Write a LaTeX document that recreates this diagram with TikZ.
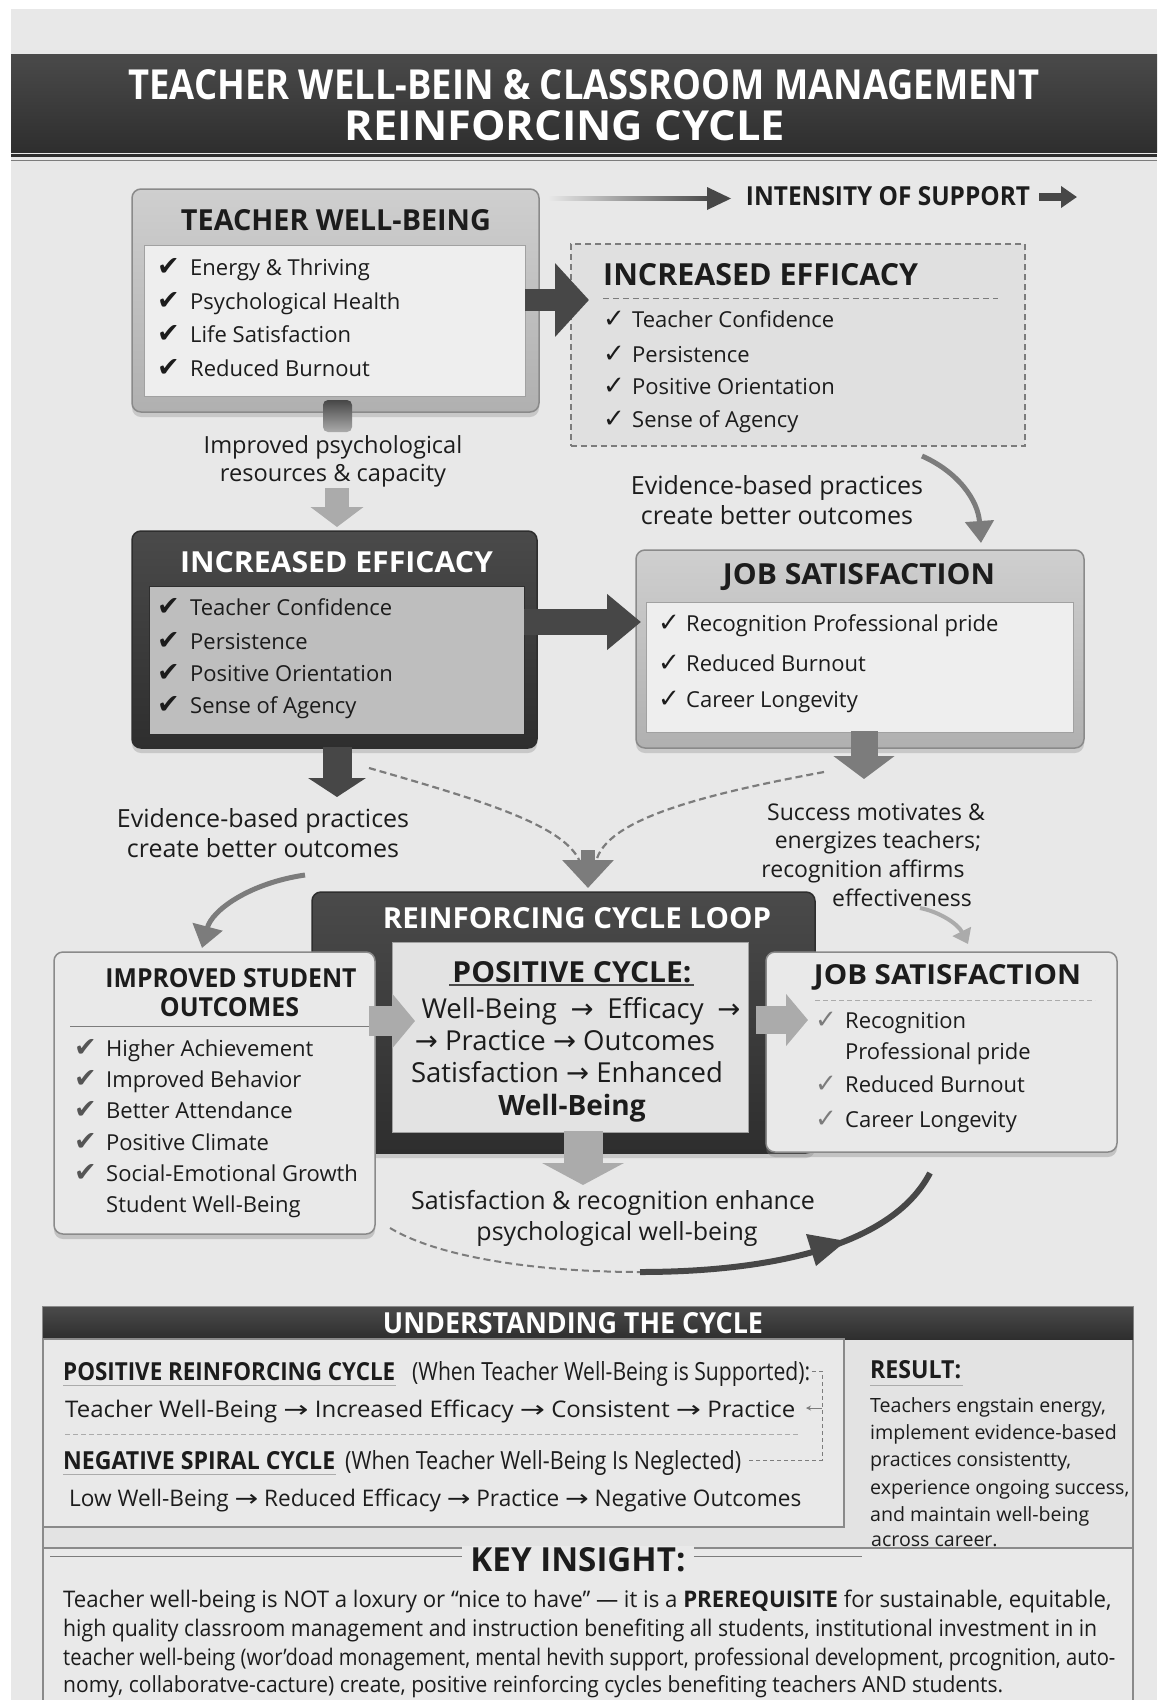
\documentclass[tikz,border=0pt]{standalone}
\usepackage{graphicx}
\usepackage{fontspec}
\setmainfont{Open Sans}
\newfontfamily\condf[FakeStretch=0.8]{Open Sans}
\newfontfamily\symf{DejaVu Sans}
\usetikzlibrary{arrows.meta,shadows}
\definecolor{bg}{HTML}{E8E8E8}
\definecolor{ink}{HTML}{1C1C1C}
\definecolor{boxtop}{HTML}{CFCFCF}
\definecolor{boxbot}{HTML}{B0B0B0}
\definecolor{panel}{HTML}{EEEEEE}
\definecolor{darktop}{HTML}{4A4A4A}
\definecolor{darkbot}{HTML}{2E2E2E}
\definecolor{paneldark}{HTML}{BEBEBE}
\definecolor{edge}{HTML}{8A8A8A}
\definecolor{arrdark}{HTML}{474747}
\definecolor{arrmid}{HTML}{7C7C7C}
\definecolor{arrlight}{HTML}{ABABAB}
\definecolor{dashfill}{HTML}{E0E0E0}
\definecolor{cardfill}{HTML}{E9E9E9}
\definecolor{secfill}{HTML}{E3E3E3}
\definecolor{ckgray}{HTML}{555555}
\newcommand\fitbox[3]{\resizebox{#1pt}{#2pt}{#3}}
\newcommand\ckH[1]{\makebox[#1pt][l]{{\symf\fontsize{27}{27}\selectfont\char"2714}}}
\newcommand\ckL[1]{\makebox[#1pt][l]{{\symf\fontsize{26}{26}\selectfont\char"2713}}}
\newcommand\rarr{{\symf\char"2192}}
\newcommand\larr{{\symf\char"2190}}
\tikzset{
  lbox/.style={draw=edge, line width=1.5pt, top color=boxtop, bottom color=boxbot, rounded corners=9pt,
     drop shadow={shadow xshift=0pt, shadow yshift=-5pt, opacity=0.3}},
  lpanel/.style={draw=edge!80, line width=1pt, fill=panel},
  dkbox/.style={draw=darkbot, line width=1.5pt, top color=darktop, bottom color=darkbot, rounded corners=9pt,
     drop shadow={shadow xshift=0pt, shadow yshift=-5pt, opacity=0.3}},
  dkpanel/.style={draw=darkbot, line width=1pt, fill=paneldark},
  dshbox/.style={draw=arrmid, line width=1.5pt, dash pattern=on 6pt off 4pt, fill=dashfill},
  card/.style={draw=edge, line width=1.5pt, fill=cardfill, rounded corners=9pt,
     drop shadow={shadow xshift=0pt, shadow yshift=-5pt, opacity=0.35}},
  hd/.style={inner sep=0pt, text=ink},
  hdw/.style={inner sep=0pt, text=white},
  itm/.style={anchor=west, inner sep=0pt, text=ink, font=\fontsize{22}{26}\selectfont, text height=17pt, text depth=1.5pt},
  lab/.style={inner sep=0pt, text=ink, font=\fontsize{24}{28}\selectfont, text height=18pt, text depth=1pt},
  cyc/.style={inner sep=0pt, text=ink, font=\fontsize{27.5}{30}\selectfont, text height=21pt, text depth=1.5pt},
  res/.style={anchor=base west, inner sep=0pt, text=ink, font=\fontsize{19.6}{24}\selectfont},
  fitl/.style={anchor=base west, inner sep=0pt, text=ink},
  dsh/.style={line width=2.2pt, dash pattern=on 7pt off 4pt, draw=arrmid},
  thin/.style={line width=1pt, draw=arrmid},
}
\begin{document}
\begin{tikzpicture}[x=1pt,y=-1pt]
\useasboundingbox (0,0) rectangle (1157,1700);
\fill[white] (0,0) rectangle (1157,1700);
\fill[bg] (11,9) rectangle (1157,1700);
% ---------- title banner
\shade[top color=darktop, bottom color=darkbot] (11,54) rectangle (1157,152);
\draw[line width=2.5pt, draw=darkbot] (11,155.5) -- (1157,155.5);
\draw[line width=1pt, draw=arrmid] (11,160) -- (1157,160);
\node[hdw] (title1) at (584,85) {\fitbox{911}{30}{\condf\bfseries TEACHER WELL-BEIN \& CLASSROOM MANAGEMENT}};
\node[hdw] (title2) at (565,126) {\fitbox{440}{30}{\condf\bfseries REINFORCING CYCLE}};

% ---------- intensity of support
\shade[left color=bg, right color=arrdark] (548,196.5) rectangle (712,200.5);
\fill[arrdark] (707,187) -- (731,198.5) -- (707,210) -- cycle;
\node[hd] (intens) at (888,196) {\fitbox{284}{19}{\condf\bfseries INTENSITY OF SUPPORT}};
\coordinate (isA) at (1039,197);
\coordinate (isB) at (1077,197);
\draw[arrdark, line width=8pt, -{Triangle[length=16pt,width=21pt]}] (isA) -- (isB);

% ---------- boxes
\node[lbox, minimum width=407pt, minimum height=223pt] (wb) at (335.5,300.5) {};
\node[lpanel, minimum width=381pt, minimum height=151pt] (wbp) at (334.5,320.5) {};
\node[hd] (wbh) at (336,220) {\fitbox{310}{21}{\bfseries TEACHER WELL-BEING}};

\node[dshbox, minimum width=454pt, minimum height=202pt] (ef1) at (798,345) {};
\node[hd, anchor=west] (ef1h) at (603,275) {\fitbox{315}{22}{\bfseries INCREASED EFFICACY}};
\draw[thin, dash pattern=on 6pt off 4pt] (603,298) -- (998,298);

\node[dkbox, minimum width=405pt, minimum height=217pt] (ef2) at (334.5,639.5) {};
\node[dkpanel, minimum width=375pt, minimum height=148pt] (ef2p) at (336.5,660) {};
\node[hdw] (ef2h) at (336.5,562) {\fitbox{313}{21}{\bfseries INCREASED EFFICACY}};

\node[lbox, minimum width=448pt, minimum height=198pt] (js) at (860,649) {};
\node[lpanel, minimum width=427pt, minimum height=130pt] (jsp) at (859.5,667) {};
\node[hd] (jsh) at (859,577) {\fitbox{272}{21}{\bfseries JOB SATISFACTION}};

\node[dkbox, minimum width=503pt, minimum height=261pt] (loop) at (563.5,1022.5) {};
\node[lpanel, fill=secfill, minimum width=356pt, minimum height=190pt] (loopp) at (570,1037) {};
\node[hdw] (looph) at (577,918) {\fitbox{388}{21}{\bfseries REINFORCING CYCLE LOOP}};

\node[card, minimum width=321pt, minimum height=282pt] (stu) at (214.5,1093) {};
\node[hd] (stuh1) at (231,978) {\fitbox{251}{19}{\bfseries IMPROVED STUDENT}};
\node[hd] (stuh2) at (229.5,1007) {\fitbox{139}{19}{\bfseries OUTCOMES}};
\draw[thin] (70,1026) -- (369,1026);

\node[card, minimum width=351pt, minimum height=200pt] (js2) at (941.5,1052) {};
\node[hd] (js2h) at (947.5,977) {\fitbox{267}{20}{\bfseries JOB SATISFACTION}};
\draw[thin, draw=arrlight, dash pattern=on 5pt off 3pt] (815,1000) -- (1095,1000);

% ---------- box items
\node[itm] (wb1) at (157,268) {\ckH{33}Energy \& Thriving};
\node[itm] (wb2) at (157,302) {\ckH{33}Psychological Health};
\node[itm] (wb3) at (157,335) {\ckH{33}Life Satisfaction};
\node[itm] (wb4) at (157,369) {\ckH{33}Reduced Burnout};

\node[itm] (ea1) at (603,320) {\ckL{29}Teacher Confidence};
\node[itm] (ea2) at (603,355) {\ckL{29}Persistence};
\node[itm] (ea3) at (603,387) {\ckL{29}Positive Orientation};
\node[itm] (ea4) at (603,420) {\ckL{29}Sense of Agency};

\node[itm] (eb1) at (157,608) {\ckH{33}Teacher Confidence};
\node[itm] (eb2) at (157,642) {\ckH{33}Persistence};
\node[itm] (eb3) at (157,674) {\ckH{33}Positive Orientation};
\node[itm] (eb4) at (157,706) {\ckH{33}Sense of Agency};

\node[itm] (js1) at (658,624) {\ckL{28}Recognition Professional pride};
\node[itm] (js2i) at (658,664) {\ckL{28}Reduced Burnout};
\node[itm] (js3) at (658,700) {\ckL{28}Career Longevity};

\node[itm] (so1) at (74,1049) {\textcolor{ckgray}{\ckH{32}}Higher Achievement};
\node[itm] (so2) at (74,1080) {\textcolor{ckgray}{\ckH{32}}Improved Behavior};
\node[itm] (so3) at (74,1111) {\textcolor{ckgray}{\ckH{32}}Better Attendance};
\node[itm] (so4) at (74,1143) {\textcolor{ckgray}{\ckH{32}}Positive Climate};
\node[itm] (so5) at (74,1174) {\textcolor{ckgray}{\ckH{32}}Social-Emotional Growth};
\node[itm] (so6) at (106,1205) {Student Well-Being};

\node[itm] (jt1) at (815,1021) {\textcolor{arrmid}{\ckL{30}}Recognition};
\node[itm] (jt2) at (845,1052) {Professional pride};
\node[itm] (jt3) at (815,1085) {\textcolor{arrmid}{\ckL{30}}Reduced Burnout};
\node[itm] (jt4) at (815,1120) {\textcolor{arrmid}{\ckL{30}}Career Longevity};

% ---------- cycle panel text
\node[hd] (pc) at (572,972) {\fitbox{239}{21}{\bfseries POSITIVE CYCLE:}};
\draw[line width=1.5pt, draw=ink!80] (449,985) -- (694,985);
\node[cyc] (c1) at (581,1009) {Well-Being\hspace{0.5em}\rarr\hspace{0.5em}Efficacy\hspace{0.5em}\rarr};
\node[cyc] (c2) at (565,1041) {\rarr\ Practice \rarr\ Outcomes};
\node[cyc] (c3) at (567,1073) {Satisfaction \rarr\ Enhanced};
\node[cyc, font=\fontsize{28}{30}\selectfont\bfseries] (c4) at (572,1106) {Well-Being};

% ---------- connector labels
\node[lab, font=\fontsize{23.6}{28}\selectfont] (l1a) at (333,445) {Improved psychological};
\node[lab, font=\fontsize{23.6}{28}\selectfont] (l1b) at (333,473) {resources \& capacity};
\node[lab, font=\fontsize{25}{28}\selectfont] (l2a) at (777,486) {Evidence-based practices};
\node[lab, font=\fontsize{25}{28}\selectfont] (l2b) at (777,516) {create better outcomes};
\node[lab, font=\fontsize{25}{28}\selectfont] (l3a) at (263,819) {Evidence-based practices};
\node[lab, font=\fontsize{25}{28}\selectfont] (l3b) at (263,849) {create better outcomes};
\node[lab, font=\fontsize{23}{28}\selectfont] (l4a) at (876,812) {Success motivates \&};
\node[lab, font=\fontsize{23}{28}\selectfont] (l4b) at (878,840) {energizes teachers;};
\node[lab, font=\fontsize{23}{28}\selectfont] (l4c) at (863,869) {recognition affirms};
\node[lab, font=\fontsize{23}{28}\selectfont] (l4d) at (902,898) {effectiveness};
\node[lab, font=\fontsize{25}{28}\selectfont] (l5a) at (613,1201) {Satisfaction \& recognition enhance};
\node[lab, font=\fontsize{25}{28}\selectfont] (l5b) at (617,1232) {psychological well-being};

% ---------- arrows
\shade[top color=arrdark, bottom color=arrlight, rounded corners=5pt] (323,400) rectangle (352,432);
\coordinate (a1s) at (525,300); \coordinate (a1e) at (589,300);
\draw[arrdark, line width=22pt, -{Triangle[length=34pt,width=72pt]}] (a1s) -- (a1e);
\coordinate (a2s) at (337,488); \coordinate (a2e) at (337,527);
\draw[arrlight, line width=24pt, -{Triangle[length=20pt,width=52pt]}] (a2s) -- (a2e);
\coordinate (a3s) at (524,622); \coordinate (a3e) at (641,622);
\draw[arrdark, line width=26pt, -{Triangle[length=34pt,width=54pt]}] (a3s) -- (a3e);
\coordinate (a4s) at (337,747); \coordinate (a4e) at (337,797);
\draw[arrdark, line width=29pt, -{Triangle[length=19pt,width=57pt]}] (a4s) -- (a4e);
\coordinate (a5s) at (864,731); \coordinate (a5e) at (864,779);
\draw[arrmid, line width=27pt, -{Triangle[length=23pt,width=60pt]}] (a5s) -- (a5e);
\coordinate (a6s) at (369,1021); \coordinate (a6e) at (415,1021);
\draw[arrlight, line width=30pt, -{Triangle[length=23pt,width=54pt]}] (a6s) -- (a6e);
\coordinate (a7s) at (756,1020); \coordinate (a7e) at (808,1020);
\draw[arrlight, line width=28pt, -{Triangle[length=22pt,width=51pt]}] (a7s) -- (a7e);
\coordinate (a8s) at (583,1131); \coordinate (a8e) at (583,1185);
\draw[arrlight, line width=39pt, -{Triangle[length=22pt,width=81pt]}] (a8s) -- (a8e);

% curved arrows
\coordinate (c1s) at (922,456); \coordinate (c1e) at (981,543);
\draw[arrmid, line width=5pt, -{Triangle[length=22pt,width=28pt]}] (c1s) .. controls (958,472) and (978,500) .. (c1e);
\coordinate (c2s) at (305,875); \coordinate (c2e) at (202,948);
\draw[arrmid, line width=5pt, -{Triangle[length=22pt,width=30pt]}] (c2s) .. controls (250,883) and (212,910) .. (c2e);
\coordinate (c3s) at (920,908); \coordinate (c3e) at (968,944);
\draw[arrlight, line width=4pt, -{Triangle[length=14pt,width=20pt]}] (c3s) .. controls (940,912) and (958,924) .. (c3e);

% converging dashed lines
\coordinate (d1s) at (369,768); \coordinate (d2s) at (824,772);
\coordinate (dm) at (588,858); \coordinate (dt) at (588,888);
\draw[dsh] (d1s) .. controls (480,800) and (565,825) .. (580,862);
\draw[dsh] (d2s) .. controls (700,795) and (605,820) .. (596,862);
\draw[arrmid, line width=14pt, -{Triangle[length=28pt,width=50pt]}] ([yshift=8pt]dm) -- (dt);

% bottom return arrow
\coordinate (r1) at (390,1228); \coordinate (r2) at (640,1272); \coordinate (r3) at (930,1173);
\draw[dsh, line width=2pt] (r1) .. controls (440,1258) and (540,1272) .. (r2);
\draw[arrdark, line width=6pt] (r2) .. controls (760,1272) and (890,1250) .. (r3);
\fill[arrdark] (846,1241) -- (816,1266) -- (806,1234) -- cycle;

% ---------- understanding the cycle
\draw[draw=edge, fill=secfill, line width=1.5pt] (43,1307) rectangle (1133,1548);
\shade[top color=darktop, bottom color=darkbot] (43,1307) rectangle (1133,1339);
\node[hdw] (undh) at (573,1323) {\fitbox{380}{21}{\condf\bfseries UNDERSTANDING THE CYCLE}};
\draw[draw=edge, line width=1.5pt, fill=cardfill] (43,1339) rectangle (844,1527);
\node[fitl] (pr) at (63,1380) {\fitbox{332}{18}{\condf\bfseries POSITIVE REINFORCING CYCLE}};
\node[fitl] (prw) at (412,1380) {\fitbox{398}{19}{\condf (When Teacher Well-Being is Supported):}};
\draw[thin, draw=arrlight] (63,1385) -- (396,1385);
\node[fitl] (prl) at (65,1417) {\fitbox{730}{17.5}{\condf Teacher Well-Being \rarr\ Increased Efficacy \rarr\ Consistent \rarr\ Practice}};
\draw[thin, draw=arrlight, dash pattern=on 5pt off 3pt] (65,1434) -- (800,1434);
\node[fitl] (ng) at (63,1469) {\fitbox{272}{18}{\condf\bfseries NEGATIVE SPIRAL CYCLE}};
\node[fitl] (ngw) at (345,1469) {\fitbox{396}{19}{\condf (When Teacher Well-Being Is Neglected)}};
\draw[thin, draw=arrlight] (63,1474) -- (336,1474);
\node[fitl] (ngl) at (69,1506) {\fitbox{732}{17.5}{\condf Low Well-Being \rarr\ Reduced Efficacy \rarr\ Practice \rarr\ Negative Outcomes}};
\coordinate (bk1) at (812,1371); \coordinate (bk2) at (822,1371);
\coordinate (bk3) at (822,1460); \coordinate (bk4) at (748,1460);
\coordinate (bkA) at (822,1408); \coordinate (bkB) at (806,1408);
\draw[thin, dash pattern=on 4pt off 3pt] (bk1) -- (bk2) -- (bk3) -- (bk4);
\draw[thin, -{Stealth[length=5pt,width=5pt]}] (bkA) -- (bkB);

\node[fitl] (resh) at (870,1378) {\fitbox{91}{18}{\bfseries RESULT:}};
\draw[thin, draw=arrlight] (870,1385) -- (963,1385);
\node[res] (rs1) at (870,1412) {Teachers engstain energy,};
\node[res] (rs2) at (870,1439) {implement evidence-based};
\node[res] (rs3) at (870,1466) {practices consistentty,};
\node[res] (rs4) at (870,1494) {experience ongoing success,};
\node[res] (rs5) at (870,1521) {and maintain well-being};

% ---------- key insight
\draw[draw=edge, line width=1.5pt, fill=cardfill] (43,1548) rectangle (1133,1720);
\draw[thin] (50,1556) -- (462,1556);
\draw[thin] (694,1556) -- (862,1556);
\node[res, fill=secfill, inner sep=1pt] (rs6) at (870,1546) {across career.};
\node[hd, fill=cardfill, inner xsep=8pt, inner ysep=2pt] (key) at (578,1560) {\fitbox{215}{24}{\condf\bfseries KEY INSIGHT:}};
\node[fitl] (k1) at (63,1607) {\fitbox{1048}{17.5}{\condf Teacher well-being is NOT a loxury or “nice to have” — it is a \textbf{PREREQUISITE} for sustainable, equitable,}};
\node[fitl] (k2) at (63,1636.5) {\fitbox{1034}{17.5}{\condf high quality classroom management and instruction benefiting all students, institutional investment in in}};
\node[fitl] (k3) at (63,1665) {\fitbox{1052}{17.5}{\condf teacher well-being (wor’doad monagement, mental hevith support, professional development, prcognition, auto-}};
\node[fitl] (k4) at (63,1692) {\fitbox{940}{17}{\condf nomy, collaboratve-cacture) create, positive reinforcing cycles benefiting teachers AND students.}};
\end{tikzpicture}
\end{document}
